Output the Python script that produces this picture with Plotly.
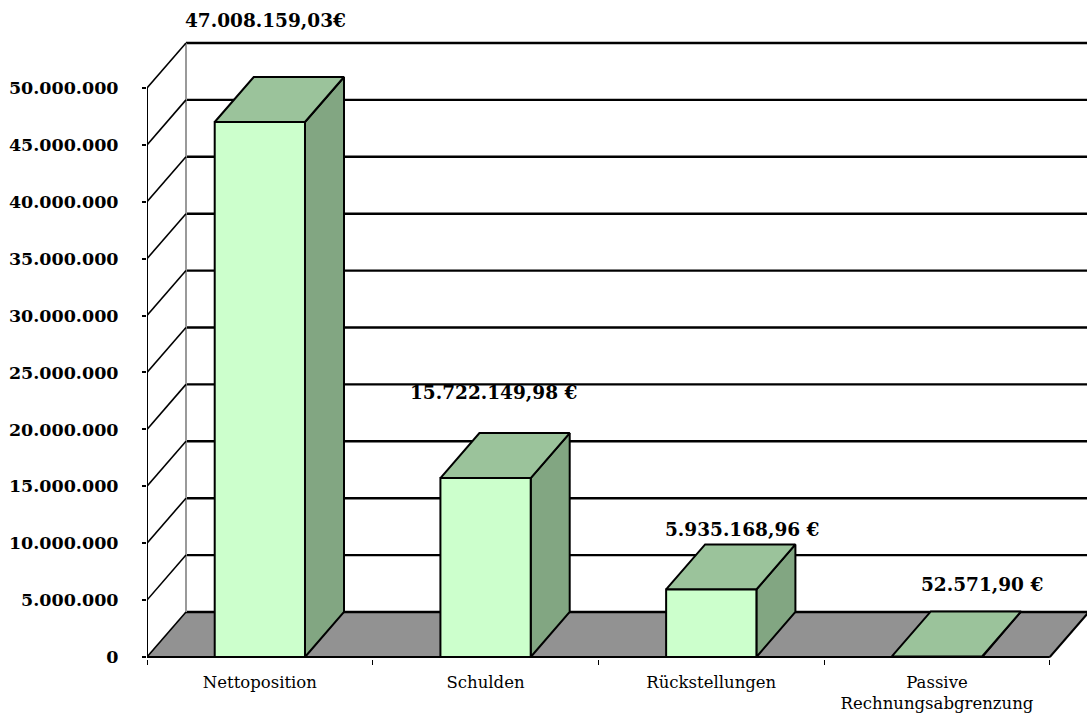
import plotly.graph_objects as go

# ---------------- data ----------------
categories = ["Nettoposition", "Schulden", "Rückstellungen", "Passive<br>Rechnungsabgrenzung"]
values = [47008159.03, 15722149.98, 5935168.96, 52571.90]
value_labels = ["47.008.159,03€", "15.722.149,98 €", "5.935.168,96 €", "52.571,90 €"]
y_tick_values = [0, 5e6, 10e6, 15e6, 20e6, 25e6, 30e6, 35e6, 40e6, 45e6, 50e6]
y_tick_labels = ["0", "5.000.000", "10.000.000", "15.000.000", "20.000.000", "25.000.000",
                 "30.000.000", "35.000.000", "40.000.000", "45.000.000", "50.000.000"]

# ---------------- geometry / style ----------------
W, H = 1087, 716
ML, MB, MT, MR = 147, 57, 0, 0
Y_RANGE = [-0.1757e6, 57.73e6]
N = len(categories)
X_RANGE = [0, 4.1647]
DX = 0.1728          # depth offset in category units
DY = 3.954e6         # depth offset in value units
BAR_W = 0.4
FRONT = "#CCFFCC"
TOP = "#9BC39B"
SIDE = "#82A682"
FLOOR = "#929292"
label_xshift = [6, 8, 31, 45]
label_yshift = [57, 41, 15, 27]
FONT = "DejaVu Serif"

fig = go.Figure()

def poly(xs, ys, fill, lw=2, color="black"):
    fig.add_trace(go.Scatter(x=xs + [xs[0]], y=ys + [ys[0]], mode="lines", fill="toself",
                             fillcolor=fill, line=dict(color=color, width=lw),
                             hoverinfo="skip", showlegend=False))

def lines(segs, color, width):
    xs, ys = [], []
    for (x0, y0, x1, y1) in segs:
        xs += [x0, x1, None]
        ys += [y0, y1, None]
    fig.add_trace(go.Scatter(x=xs, y=ys, mode="lines", line=dict(color=color, width=width),
                             hoverinfo="skip", showlegend=False))

# floor
poly([0, N, N + DX, DX], [0, 0, DY, DY], FLOOR, lw=0, color=FLOOR)

# back wall gridlines
lines([(DX, v + DY, X_RANGE[1] + 0.5, v + DY) for v in y_tick_values], "#000000", 2.4)
# back wall left vertical
lines([(DX, DY, DX, y_tick_values[-1] + DY)], "#9a9a9a", 2)
# side wall diagonals
lines([(0, v, DX, v + DY) for v in y_tick_values], "#000000", 1.6)
# front axis line and floor outline
lines([(0, 0, 0, y_tick_values[-1])], "#000000", 2)
lines([(0, 0, N, 0), (N, 0, N + DX, DY)], "#000000", 2)

# bars
for i, v in enumerate(values):
    x0 = i + 0.5 - BAR_W / 2
    x1 = i + 0.5 + BAR_W / 2
    poly([x1, x1 + DX, x1 + DX, x1], [0, DY, v + DY, v], SIDE)
    poly([x0, x1, x1 + DX, x0 + DX], [v, v, v + DY, v + DY], TOP)
    if v > 0.2e6:
        poly([x0, x1, x1, x0], [0, 0, v, v], FRONT)

# value labels
for i, (v, t) in enumerate(zip(values, value_labels)):
    fig.add_annotation(x=i + 0.5, y=v + DY, text=t, showarrow=False,
                       xshift=label_xshift[i], yshift=label_yshift[i],
                       xanchor="center", yanchor="middle",
                       font=dict(family=FONT, size=18.5, color="black", weight="bold"))

fig.update_layout(
    width=W, height=H,
    margin=dict(l=ML, r=MR, t=MT, b=MB, pad=0),
    paper_bgcolor="white", plot_bgcolor="white",
    showlegend=False,
    xaxis=dict(range=X_RANGE, showgrid=False, zeroline=False, showline=False,
               tickvals=[i + 0.5 for i in range(N)], ticktext=categories,
               ticks="", ticklabelstandoff=11,
               tickfont=dict(family=FONT, size=16.5, color="black"),
               minor=dict(tickvals=list(range(N + 1)), ticks="outside", ticklen=5,
                          tickcolor="black", tickwidth=1)),
    yaxis=dict(range=Y_RANGE, showgrid=False, zeroline=False, showline=False,
               tickvals=y_tick_values, ticktext=y_tick_labels,
               ticks="outside", ticklen=4, tickcolor="black", tickwidth=2,
               ticklabelstandoff=20,
               tickfont=dict(family=FONT, size=17.5, color="black", weight="bold")),
)

fig.write_html("out.html")
